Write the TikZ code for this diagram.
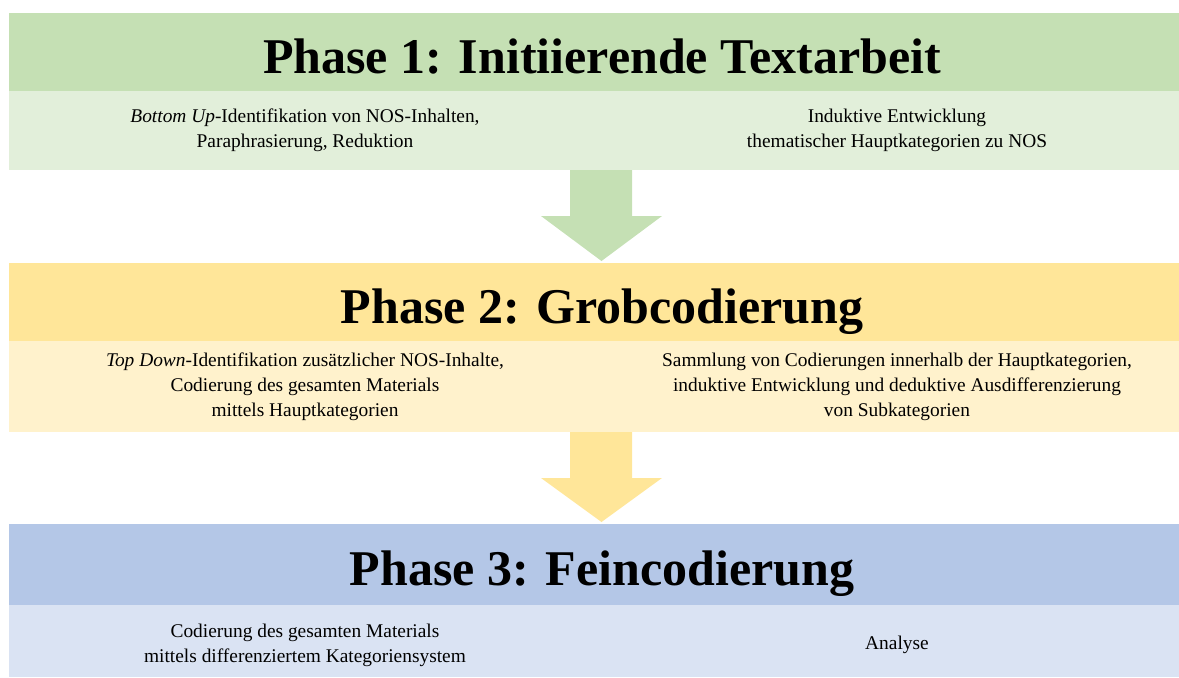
\documentclass[tikz,border=0pt]{standalone}
\usepackage{fontspec}
\setmainfont{Liberation Serif}
\usetikzlibrary{positioning,calc}
\definecolor{grnhead}{HTML}{C5E0B4}
\definecolor{grnbody}{HTML}{E2EFDA}
\definecolor{yelhead}{HTML}{FFE699}
\definecolor{yelbody}{HTML}{FFF2CC}
\definecolor{bluhead}{HTML}{B4C7E7}
\definecolor{blubody}{HTML}{DAE3F3}
\tikzset{
  band/.style={inner sep=0pt,outer sep=0pt,minimum width=585pt},
  phasetitle/.style={anchor=base,font=\fontsize{25}{30}\selectfont\bfseries},
  note/.style={align=center,font=\fontsize{9.7}{12.5}\selectfont},
}
\begin{document}
\begin{tikzpicture}[x=.5pt,y=-.5pt]
\useasboundingbox (0,0) rectangle (1179,677);
% bands
\node[band,fill=grnhead,minimum height=39pt] (h1) at (594,52) {};
\node[band,fill=grnbody,minimum height=39.5pt,below=0pt of h1] (b1) {};
\node[band,fill=yelhead,minimum height=39pt] (h2) at (594,302) {};
\node[band,fill=yelbody,minimum height=45.5pt,below=0pt of h2] (b2) {};
\node[band,fill=bluhead,minimum height=40.5pt] (h3) at (594,564.5) {};
\node[band,fill=blubody,minimum height=36pt,below=0pt of h3] (b3) {};
% block arrows between the phases
\foreach \a/\b/\c in {b1/h2/grnhead,b2/h3/yelhead}
  \fill[\c] ($(\a.south)+(-24,0)$) -- ($(\a.south)+(38,0)$) -- ($(\a.south)+(38,46)$)
    -- ($(\a.south)+(68,46)$) -- ($(\b.north)+(7.5,-2)$) -- ($(\a.south)+(-53,46)$)
    -- ($(\a.south)+(-24,46)$) -- cycle;
% titles
\node[phasetitle] (t1) at ($(h1.center)+(8,21)$) {Phase 1: Initiierende Textarbeit};
\node[phasetitle] (t2) at ($(h2.center)+(8,21)$) {Phase 2: Grobcodierung};
\node[phasetitle] (t3) at ($(h3.center)+(8,21)$) {Phase 3: Feincodierung};
% texts
\node[note] (n1l) at ($(b1.center)+(-289,0)$) {\textit{Bottom Up}-Identifikation von NOS-Inhalten,\\Paraphrasierung, Reduktion};
\node[note] (n1r) at ($(b1.center)+(303,0)$) {Induktive Entwicklung\\thematischer Hauptkategorien zu NOS};
\node[note] (n2l) at ($(b2.center)+(-289,0)$) {\textit{Top Down}-Identifikation zusätzlicher NOS-Inhalte,\\Codierung des gesamten Materials\\mittels Hauptkategorien};
\node[note] (n2r) at ($(b2.center)+(303,0)$) {Sammlung von Codierungen innerhalb der Hauptkategorien,\\induktive Entwicklung und deduktive Ausdifferenzierung\\von Subkategorien};
\node[note] (n3l) at ($(b3.center)+(-289,4)$) {Codierung des gesamten Materials\\mittels differenziertem Kategoriensystem};
\node[note] (n3r) at ($(b3.center)+(303,4)$) {Analyse};
\end{tikzpicture}
\end{document}
